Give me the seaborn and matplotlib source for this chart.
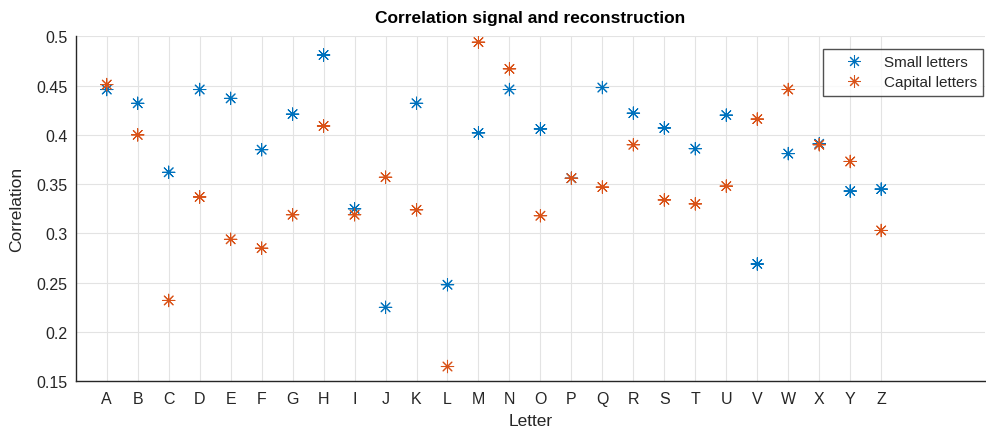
import numpy as np
import pandas as pd
import matplotlib
matplotlib.use("Agg")
import matplotlib.pyplot as plt
import seaborn as sns

letters = list("ABCDEFGHIJKLMNOPQRSTUVWXYZ")
small_letters = [0.446, 0.432, 0.362, 0.446, 0.437, 0.385, 0.421, 0.481, 0.325, 0.225,
                 0.432, 0.248, 0.402, 0.446, 0.406, 0.356, 0.448, 0.422, 0.407, 0.386,
                 0.420, 0.269, 0.381, 0.391, 0.343, 0.345]
capital_letters = [0.451, 0.400, 0.232, 0.337, 0.294, 0.285, 0.319, 0.409, 0.319, 0.357,
                   0.324, 0.165, 0.494, 0.467, 0.318, 0.356, 0.347, 0.390, 0.334, 0.330,
                   0.348, 0.416, 0.446, 0.390, 0.373, 0.303]
series_names = ["Small letters", "Capital letters"]
colors = ["#0072BD", "#D95319"]
y_ticks = [0.15, 0.2, 0.25, 0.3, 0.35, 0.4, 0.45, 0.5]

sns.set_style("white")
plt.rcParams['font.family'] = ['Liberation Sans', 'DejaVu Sans']

pos = np.arange(1, len(letters) + 1)
df = pd.DataFrame({
    "pos": np.concatenate([pos, pos]),
    "Correlation": small_letters + capital_letters,
    "Series": [series_names[0]] * len(letters) + [series_names[1]] * len(letters),
})

fig = plt.figure(figsize=(9.86, 4.31), dpi=100)
ax = fig.add_axes([0.0768, 0.113, 0.9222, 0.8005])

sns.scatterplot(data=df, x="pos", y="Correlation", hue="Series",
                palette=dict(zip(series_names, colors)),
                marker=(8, 2, 0), s=80, linewidth=0.75, ax=ax, zorder=3)

ax.set_xlim(0, 29.35)
ax.set_ylim(0.15, 0.5)
ax.set_xticks(pos)
ax.set_xticklabels(letters)
ax.set_yticks(y_ticks)
ax.set_yticklabels([f"{v:g}" for v in y_ticks])
ax.grid(True, color="#e3e3e3", linewidth=0.8, zorder=0)
ax.set_axisbelow(True)
for side in ["top", "right"]:
    ax.spines[side].set_visible(False)
for side in ["left", "bottom"]:
    ax.spines[side].set_color("#262626")
    ax.spines[side].set_linewidth(1.0)
ax.tick_params(axis="both", direction="in", length=5, width=0.8, color="#262626",
               labelsize=11.5, labelcolor="#262626", pad=7)
ax.tick_params(axis="y", pad=6)
ax.set_xlabel("Letter", fontsize=12.5, color="#262626", labelpad=5)
ax.set_ylabel("Correlation", fontsize=12.5, color="#262626", labelpad=9)
ax.set_title("Correlation signal and reconstruction", fontsize=12.5,
             fontweight="bold", color="black", pad=10)

leg = ax.legend(loc="upper right", bbox_to_anchor=(1.0, 0.967), frameon=True,
                fancybox=False, fontsize=11, handletextpad=0.4,
                borderpad=0.4, labelspacing=0.4, borderaxespad=0.1,
                handlelength=3.2)
leg.get_frame().set_edgecolor("#262626")
leg.get_frame().set_linewidth(1.0)

fig.savefig("out.png", dpi=100)
